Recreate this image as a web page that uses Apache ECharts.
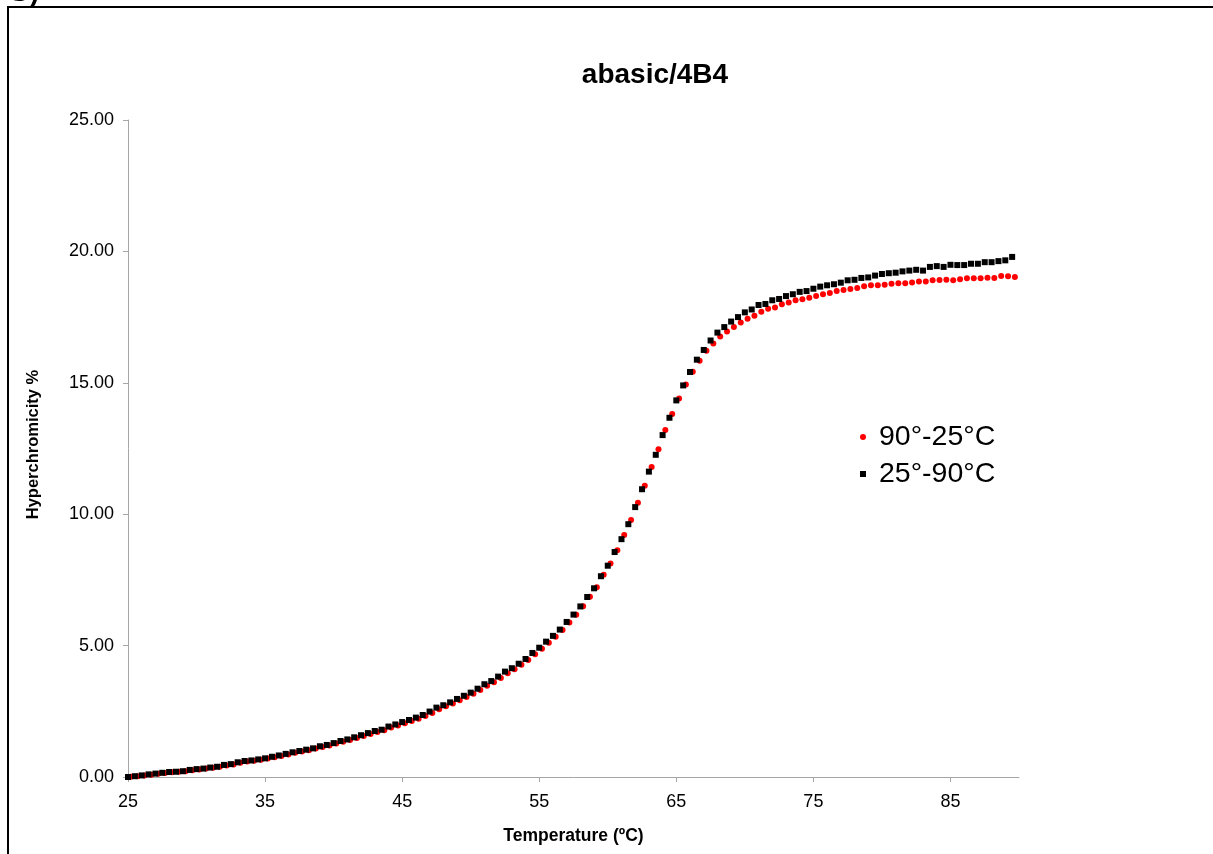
<!DOCTYPE html>
<html>
<head>
<meta charset="utf-8">
<title>abasic/4B4</title>
<script src="https://cdn.jsdelivr.net/npm/echarts@6/dist/echarts.min.js"></script>
<style>
  html, body { margin: 0; padding: 0; background: #ffffff; }
  #chart { width: 1213px; height: 854px; }
</style>
</head>
<body>
<div id="chart"></div>
<script>
// Melting curve of the abasic/4B4 duplex: hyperchromicity vs temperature,
// heating (25°-90°C) and cooling (90°-25°C) runs.

const heatName = '25°-90°C';
const coolName = '90°-25°C';

const heatTemps = [
  25, 25.5, 26, 26.5, 27, 27.5, 28, 28.5, 29, 29.5,
  30, 30.5, 31, 31.5, 32, 32.5, 33, 33.5, 34, 34.5,
  35, 35.5, 36, 36.5, 37, 37.5, 38, 38.5, 39, 39.5,
  40, 40.5, 41, 41.5, 42, 42.5, 43, 43.5, 44, 44.5,
  45, 45.5, 46, 46.5, 47, 47.5, 48, 48.5, 49, 49.5,
  50, 50.5, 51, 51.5, 52, 52.5, 53, 53.5, 54, 54.5,
  55, 55.5, 56, 56.5, 57, 57.5, 58, 58.5, 59, 59.5,
  60, 60.5, 61, 61.5, 62, 62.5, 63, 63.5, 64, 64.5,
  65, 65.5, 66, 66.5, 67, 67.5, 68, 68.5, 69, 69.5,
  70, 70.5, 71, 71.5, 72, 72.5, 73, 73.5, 74, 74.5,
  75, 75.5, 76, 76.5, 77, 77.5, 78, 78.5, 79, 79.5,
  80, 80.5, 81, 81.5, 82, 82.5, 83, 83.5, 84, 84.5,
  85, 85.5, 86, 86.5, 87, 87.5, 88, 88.5, 89, 89.5
];

const heatValues = [
  0.00, 0.03, 0.06, 0.10, 0.13, 0.16, 0.19, 0.20, 0.22, 0.27,
  0.30, 0.32, 0.36, 0.39, 0.46, 0.49, 0.56, 0.61, 0.63, 0.67,
  0.71, 0.77, 0.82, 0.88, 0.94, 0.99, 1.04, 1.09, 1.17, 1.22,
  1.29, 1.37, 1.43, 1.51, 1.59, 1.67, 1.75, 1.80, 1.92, 2.00,
  2.09, 2.17, 2.26, 2.36, 2.49, 2.64, 2.73, 2.84, 2.97, 3.09,
  3.21, 3.36, 3.53, 3.65, 3.82, 4.01, 4.14, 4.31, 4.49, 4.72,
  4.92, 5.15, 5.37, 5.61, 5.90, 6.18, 6.49, 6.85, 7.18, 7.64,
  8.04, 8.56, 9.05, 9.62, 10.27, 10.95, 11.62, 12.26, 13.01, 13.67,
  14.33, 14.90, 15.41, 15.88, 16.25, 16.61, 16.91, 17.12, 17.33, 17.50,
  17.68, 17.79, 17.96, 18.00, 18.14, 18.19, 18.30, 18.37, 18.46, 18.49,
  18.58, 18.66, 18.71, 18.75, 18.81, 18.90, 18.92, 18.99, 19.01, 19.08,
  19.14, 19.17, 19.19, 19.24, 19.27, 19.30, 19.27, 19.41, 19.44, 19.41,
  19.49, 19.48, 19.48, 19.53, 19.53, 19.59, 19.59, 19.63, 19.66, 19.79
];

const coolTemps = [
  25.2, 25.7, 26.2, 26.7, 27.2, 27.7, 28.2, 28.7, 29.2, 29.7,
  30.2, 30.7, 31.2, 31.7, 32.2, 32.7, 33.2, 33.7, 34.2, 34.7,
  35.2, 35.7, 36.2, 36.7, 37.2, 37.7, 38.2, 38.7, 39.2, 39.7,
  40.2, 40.7, 41.2, 41.7, 42.2, 42.7, 43.2, 43.7, 44.2, 44.7,
  45.2, 45.7, 46.2, 46.7, 47.2, 47.7, 48.2, 48.7, 49.2, 49.7,
  50.2, 50.7, 51.2, 51.7, 52.2, 52.7, 53.2, 53.7, 54.2, 54.7,
  55.2, 55.7, 56.2, 56.7, 57.2, 57.7, 58.2, 58.7, 59.2, 59.7,
  60.2, 60.7, 61.2, 61.7, 62.2, 62.7, 63.2, 63.7, 64.2, 64.7,
  65.2, 65.7, 66.2, 66.7, 67.2, 67.7, 68.2, 68.7, 69.2, 69.7,
  70.2, 70.7, 71.2, 71.7, 72.2, 72.7, 73.2, 73.7, 74.2, 74.7,
  75.2, 75.7, 76.2, 76.7, 77.2, 77.7, 78.2, 78.7, 79.2, 79.7,
  80.2, 80.7, 81.2, 81.7, 82.2, 82.7, 83.2, 83.7, 84.2, 84.7,
  85.2, 85.7, 86.2, 86.7, 87.2, 87.7, 88.2, 88.7, 89.2, 89.7
];

const coolValues = [
  0.01, 0.03, 0.06, 0.09, 0.12, 0.15, 0.18, 0.20, 0.22, 0.26,
  0.29, 0.32, 0.35, 0.39, 0.44, 0.48, 0.54, 0.59, 0.62, 0.66,
  0.70, 0.75, 0.80, 0.86, 0.92, 0.97, 1.02, 1.08, 1.14, 1.20,
  1.27, 1.34, 1.41, 1.48, 1.56, 1.64, 1.71, 1.78, 1.88, 1.96,
  2.05, 2.13, 2.22, 2.32, 2.44, 2.58, 2.69, 2.80, 2.92, 3.04,
  3.17, 3.31, 3.47, 3.61, 3.77, 3.95, 4.10, 4.27, 4.45, 4.67,
  4.88, 5.11, 5.34, 5.59, 5.88, 6.17, 6.50, 6.86, 7.22, 7.70,
  8.12, 8.63, 9.21, 9.78, 10.44, 11.08, 11.80, 12.47, 13.20, 13.81,
  14.40, 14.94, 15.42, 15.84, 16.22, 16.50, 16.76, 16.95, 17.12, 17.29,
  17.44, 17.55, 17.70, 17.82, 17.87, 17.99, 18.06, 18.14, 18.18, 18.24,
  18.30, 18.37, 18.42, 18.49, 18.53, 18.57, 18.61, 18.67, 18.71, 18.71,
  18.73, 18.77, 18.79, 18.79, 18.82, 18.85, 18.85, 18.90, 18.91, 18.92,
  18.90, 18.94, 18.98, 18.98, 18.98, 19.00, 18.99, 19.06, 19.05, 19.03
];

const xTickValues = [25, 35, 45, 55, 65, 75, 85];
const yTickValues = [0, 5, 10, 15, 20, 25];

const FONT = '"Liberation Sans", Arial, sans-serif';
const AXIS_GREY = '#a6a6a6';

const heatData = heatTemps.map((t, i) => [t, heatValues[i]]);
const coolData = coolTemps.map((t, i) => [t, coolValues[i]]);

const chart = echarts.init(document.getElementById('chart'), null, { renderer: 'canvas' });

chart.setOption({
  animation: false,
  backgroundColor: '#ffffff',
  textStyle: { fontFamily: FONT, color: '#000' },
  title: {
    text: 'abasic/4B4',
    left: 650,
    top: 56,
    textAlign: 'center',
    textStyle: { fontFamily: FONT, fontSize: 28, fontWeight: 'bold', color: '#000' }
  },
  grid: { left: 128, right: 194, top: 120, bottom: 77, containLabel: false },
  legend: {
    orient: 'vertical',
    left: 855,
    top: 417,
    itemWidth: 6,
    itemHeight: 6,
    itemGap: 7,
    selectedMode: false,
    data: [
      { name: coolName, icon: 'circle' },
      { name: heatName, icon: 'rect' }
    ],
    textStyle: {
      fontFamily: FONT, fontSize: 28.5, color: '#000',
      lineHeight: 30, padding: [0, 0, 0, 8]
    }
  },
  xAxis: {
    type: 'value',
    min: 25,
    max: 90,
    name: 'Temperature (ºC)',
    nameLocation: 'middle',
    nameGap: 50,
    nameTextStyle: { fontFamily: FONT, fontSize: 17.5, fontWeight: 'bold', color: '#000' },
    splitLine: { show: false },
    axisLine: { show: true, onZero: false, lineStyle: { color: AXIS_GREY, width: 1 } },
    axisTick: { show: true, length: 5, inside: false, customValues: xTickValues,
                lineStyle: { color: AXIS_GREY, width: 1 } },
    axisLabel: { customValues: xTickValues, margin: 16, fontFamily: FONT, fontSize: 18, color: '#000' }
  },
  yAxis: {
    type: 'value',
    min: 0,
    max: 25,
    interval: 5,
    name: 'Hyperchromicity %',
    nameLocation: 'middle',
    nameRotate: 90,
    nameGap: 86,
    nameTextStyle: {
      fontFamily: FONT, fontSize: 16.5, fontWeight: 'bold', color: '#000',
      padding: [0, 0, 0, 8]
    },
    splitLine: { show: false },
    axisLine: { show: true, lineStyle: { color: AXIS_GREY, width: 1 } },
    axisTick: { show: true, length: 5, inside: false, lineStyle: { color: AXIS_GREY, width: 1 } },
    axisLabel: {
      margin: 14, fontFamily: FONT, fontSize: 18, color: '#000',
      formatter: (v) => v.toFixed(2)
    }
  },
  series: [
    {
      name: coolName,
      type: 'scatter',
      symbol: 'circle',
      symbolSize: 6,
      itemStyle: { color: '#ff0000', opacity: 1 },
      data: coolData,
      z: 2
    },
    {
      name: heatName,
      type: 'scatter',
      symbol: 'rect',
      symbolSize: 6,
      itemStyle: { color: '#000000', opacity: 1 },
      data: heatData,
      z: 3
    }
  ],
  graphic: [
    {
      type: 'rect',
      silent: true,
      shape: { x: 8, y: 7, width: 1300, height: 1000 },
      style: { fill: 'none', stroke: '#000', lineWidth: 2 }
    },
    {
      type: 'text',
      silent: true,
      left: 8,
      top: -21,
      style: { text: 'G)', font: 'bold 28px ' + FONT, fill: '#000' }
    }
  ]
});
</script>
</body>
</html>
